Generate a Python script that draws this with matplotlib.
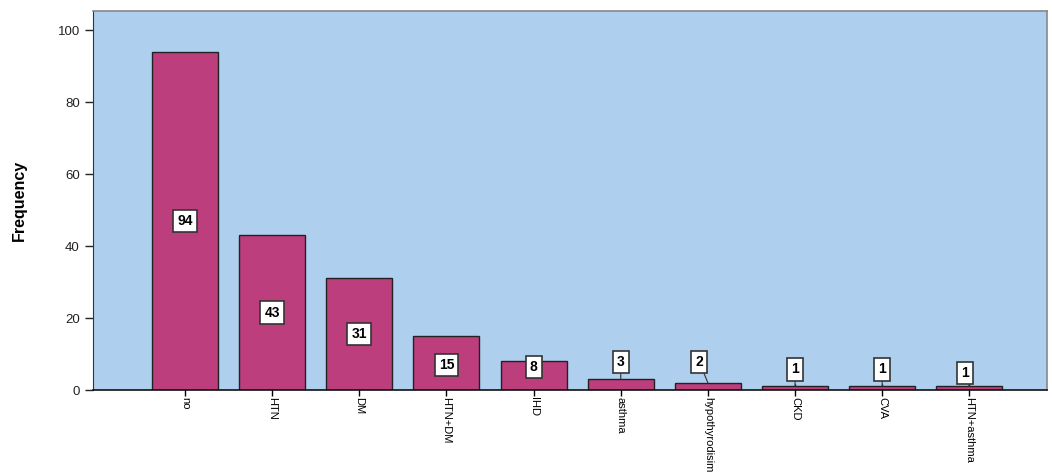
import matplotlib
matplotlib.use("Agg")
import matplotlib.pyplot as plt

categories = ["no", "HTN", "DM", "HTN+DM", "IHD", "asthma", "hypothyrodisim", "CKD", "CVA", "HTN+asthma"]
values = [94, 43, 31, 15, 8, 3, 2, 1, 1, 1]
# label positions (data units) for value boxes
label_y = [47, 21.5, 15.5, 7.0, 6.3, 7.8, 7.8, 5.7, 5.7, 4.8]
label_dx = [0, 0, 0, 0, 0, 0, -0.1, 0, 0, -0.05]

plt.rcParams['font.family'] = ['Liberation Sans', 'DejaVu Sans']

fig = plt.figure(figsize=(10.52, 4.74), dpi=100)
ax = fig.add_axes([0.0884, 0.1772, 0.9068, 0.7996])
ax.set_facecolor('#AECFEE')

x = list(range(len(categories)))
ax.bar(x, values, width=0.757, color='#BC3E7C', edgecolor='#222222', linewidth=1.0, zorder=2)

box = dict(boxstyle='square,pad=0.3', fc='white', ec='#333333', lw=1.2)
for i, (v, ly, dx) in enumerate(zip(values, label_y, label_dx)):
    if ly > v:
        ax.annotate(str(v), xy=(i, v), xytext=(i + dx, ly), ha='center', va='center',
                    fontsize=10, fontweight='bold', zorder=4, bbox=box,
                    arrowprops=dict(arrowstyle='-', color='#333333', lw=0.8, shrinkA=0, shrinkB=0))
    else:
        ax.text(i + dx, ly, str(v), ha='center', va='center', fontsize=10, fontweight='bold',
                zorder=4, bbox=box)

ax.set_xlim(-1.055, 9.89)
ax.set_ylim(0, 105.3)
ax.set_yticks([0, 20, 40, 60, 80, 100])
ax.set_xticks(x)
ax.set_xticklabels(categories, rotation=270, fontsize=8)
ax.tick_params(axis='x', direction='inout', length=8, width=1, pad=1)
ax.tick_params(axis='y', direction='out', length=6, width=1, labelsize=9.5, colors='#222222')
ax.set_ylabel('Frequency', fontsize=11.5, fontweight='bold', labelpad=22)

for s in ['top', 'right']:
    ax.spines[s].set_color('#888888')
    ax.spines[s].set_linewidth(1.2)
ax.spines['left'].set_color('#333333')
ax.spines['bottom'].set_color('#111111')
ax.spines['bottom'].set_linewidth(1.2)

fig.savefig('out.png', dpi=100)
